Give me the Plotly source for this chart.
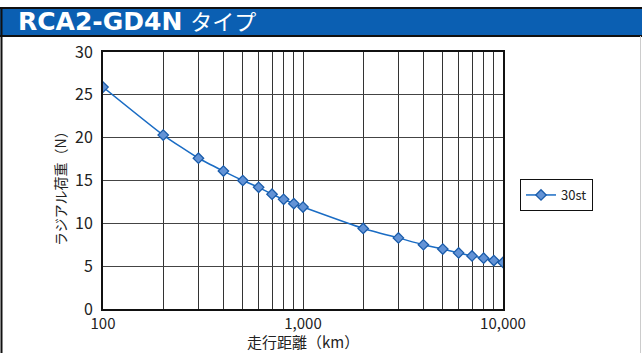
import plotly.graph_objects as go

# Travel distance (km) and radial load (N) for the 30st model
distance_km = [100, 200, 300, 400, 500, 600, 700, 800, 900, 1000,
               2000, 3000, 4000, 5000, 6000, 7000, 8000, 9000, 10000]
load_30st = [25.9, 20.3, 17.6, 16.1, 15.0, 14.2, 13.4, 12.8, 12.3, 11.9,
             9.4, 8.3, 7.5, 7.0, 6.55, 6.2, 5.93, 5.66, 5.43]

x_grid = [100, 200, 300, 400, 500, 600, 700, 800, 900,
          1000, 2000, 3000, 4000, 5000, 6000, 7000, 8000, 9000, 10000]
x_labels = {100: "100", 1000: "1,000", 10000: "10,000"}
y_ticks = [0, 5, 10, 15, 20, 25, 30]

W, H = 642, 353
L, R, T, B = 103, 139, 52, 44
pw, ph = W - L - R, H - T - B


def px(x):
    return (x - L) / pw


def py(y):
    return (H - B - y) / ph


FONT = "Noto Sans CJK JP, Noto Sans, sans-serif"
BLUE = "#0b5fb2"

fig = go.Figure()
fig.add_trace(go.Scatter(
    x=distance_km, y=load_30st, name="30st", mode="lines+markers",
    line=dict(color="#1a6cc4", width=1.5, shape="spline", smoothing=0.5),
    marker=dict(symbol="diamond", size=8, color="#6393d6",
                line=dict(color="#1a5caa", width=1.3)),
))

fig.update_layout(
    width=W, height=H,
    margin=dict(l=L, r=R, t=T, b=B, pad=0),
    paper_bgcolor="white", plot_bgcolor="white",
    font=dict(family=FONT, color="#222", size=15),
    showlegend=True,
    legend=dict(x=px(520), y=py(195), xanchor="left", yanchor="middle",
                bgcolor="white", bordercolor="#111", borderwidth=1,
                font=dict(size=13), itemwidth=30,
                tracegroupgap=0),
    xaxis=dict(
        type="log", range=[2, 4],
        tickvals=x_grid,
        ticktext=[x_labels.get(v, "") for v in x_grid],
        showgrid=True, gridcolor="#333", gridwidth=1,
        showline=True, linecolor="#111", linewidth=2, mirror=True,
        ticks="", ticklabelstandoff=0,
        tickfont=dict(size=15, family=FONT),
        zeroline=False,
    ),
    yaxis=dict(
        range=[0, 30], tickvals=y_ticks,
        showgrid=True, gridcolor="#444", gridwidth=1,
        showline=True, linecolor="#111", linewidth=2, mirror=True,
        ticks="", ticklabelstandoff=5,
        tickfont=dict(size=16, family=FONT),
        zeroline=False,
    ),
)

shapes = [
    # header bar
    dict(type="rect", xref="paper", yref="paper",
         x0=px(0), x1=px(W), y0=py(36), y1=py(8),
         fillcolor=BLUE, line=dict(width=0), layer="above"),
    dict(type="line", xref="paper", yref="paper",
         x0=px(0), x1=px(W), y0=py(8), y1=py(8),
         line=dict(color="#111", width=2)),
    dict(type="line", xref="paper", yref="paper",
         x0=px(0), x1=px(W), y0=py(36), y1=py(36),
         line=dict(color="#111", width=2)),
    # outer frame sides
    dict(type="line", xref="paper", yref="paper",
         x0=px(1.5), x1=px(1.5), y0=py(7), y1=py(H),
         line=dict(color="#111", width=2)),
    dict(type="line", xref="paper", yref="paper",
         x0=px(640.5), x1=px(640.5), y0=py(36), y1=py(H),
         line=dict(color="#ccc", width=1)),
]
fig.update_layout(shapes=shapes)

annotations = [
    dict(text="<b>RCA2-GD4N</b> <span style='font-size:22px'>タイプ</span>",
         xref="paper", yref="paper", x=px(16), y=py(22),
         xanchor="left", yanchor="middle", showarrow=False,
         font=dict(size=25, color="white", family="DejaVu Sans, Noto Sans CJK JP")),
    dict(text="ラジアル荷重（N）", xref="paper", yref="paper",
         x=px(60), y=py(185), textangle=-90, showarrow=False,
         xanchor="center", yanchor="middle", font=dict(size=14)),
    dict(text="走行距離（km）", xref="paper", yref="paper",
         x=px(303), y=py(341), showarrow=False,
         xanchor="center", yanchor="middle", font=dict(size=15)),
]
fig.update_layout(annotations=annotations)

fig.write_html("out.html")
